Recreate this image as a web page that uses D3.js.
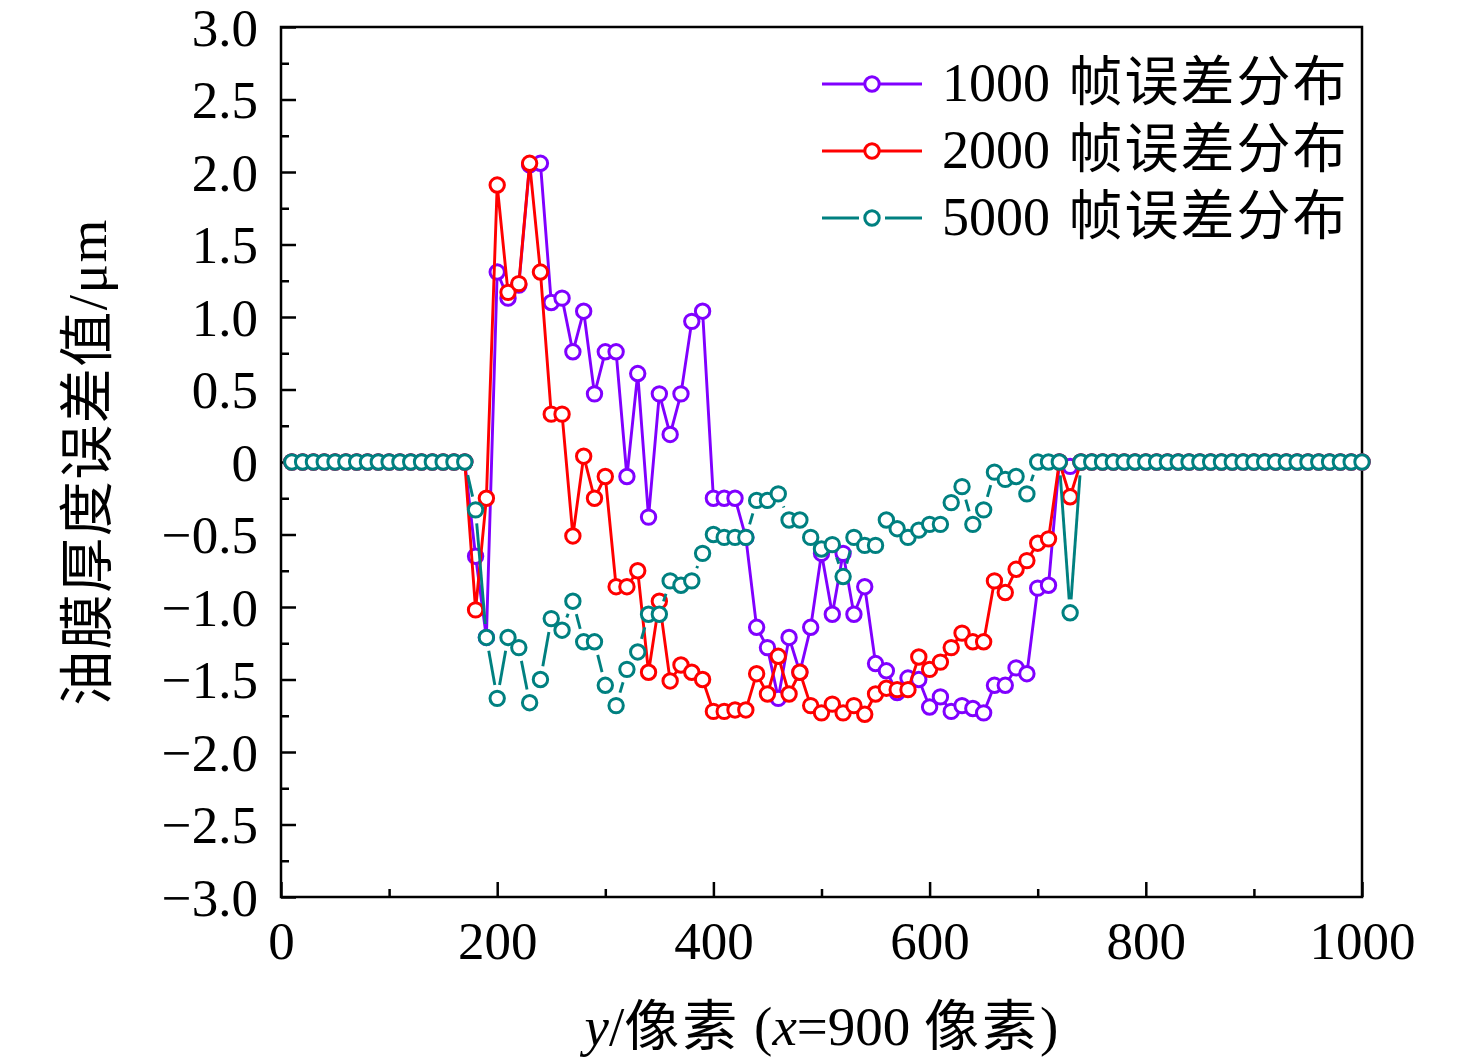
<!DOCTYPE html>
<html>
<head>
<meta charset="utf-8">
<script src="https://cdn.jsdelivr.net/npm/d3@7/dist/d3.min.js"></script>
<style>
  html, body { margin: 0; padding: 0; background: #fff; }
  svg text { font-family: "Liberation Serif", "Noto Sans CJK SC", serif; fill: #000; }
</style>
</head>
<body>
<svg id="chart" width="1476" height="1063"></svg>
<script>
// ---------- data ----------
const xValues = d3.range(10, 1001, 10); // y pixel positions 10..1000
const seriesNums = ["1000", "2000", "5000"];
const seriesLabel = "帧误差分布";
const seriesColors = ["#8000ff", "#ff0000", "#008080"];

const err1000 = [
  0,0,0,0,0,0,0,0,0,0,0,0,0,0,0,0,0,
  -0.65,-1.21,1.31,1.13,1.22,2.05,2.06,1.10,1.13,0.76,
  1.04,0.47,0.76,0.76,-0.10,0.61,-0.38,0.47,0.19,0.47,
  0.97,1.04,-0.25,-0.25,-0.25,-0.52,-1.14,-1.28,-1.63,-1.21,
  -1.45,-1.14,-0.63,-1.05,-0.63,-1.05,-0.86,-1.39,-1.44,-1.59,
  -1.49,-1.50,-1.69,-1.62,-1.72,-1.68,-1.70,-1.73,-1.54,-1.54,
  -1.42,-1.46,-0.87,-0.85,0,-0.03,
  0,0,0,0,0,0,0,0,0,0,0,0,0,0,0,0,0,0,0,0,0,0,0,0,0,0,0
];
const err2000 = [
  0,0,0,0,0,0,0,0,0,0,0,0,0,0,0,0,0,
  -1.02,-0.25,1.91,1.17,1.23,2.06,1.31,0.33,0.33,-0.51,
  0.04,-0.25,-0.10,-0.86,-0.86,-0.75,-1.45,-0.96,-1.51,-1.40,
  -1.45,-1.50,-1.72,-1.72,-1.71,-1.71,-1.46,-1.60,-1.34,-1.60,
  -1.45,-1.68,-1.73,-1.67,-1.73,-1.68,-1.74,-1.60,-1.56,-1.57,
  -1.57,-1.345,-1.43,-1.38,-1.28,-1.18,-1.24,-1.24,-0.82,-0.90,
  -0.74,-0.68,-0.56,-0.53,0,-0.24,
  0,0,0,0,0,0,0,0,0,0,0,0,0,0,0,0,0,0,0,0,0,0,0,0,0,0,0
];
const err5000 = [
  0,0,0,0,0,0,0,0,0,0,0,0,0,0,0,0,0,
  -0.33,-1.21,-1.63,-1.21,-1.28,-1.66,-1.50,-1.08,-1.16,-0.96,
  -1.24,-1.24,-1.54,-1.68,-1.43,-1.31,-1.05,-1.05,-0.82,-0.85,
  -0.82,-0.63,-0.50,-0.52,-0.52,-0.52,-0.265,-0.265,-0.22,-0.40,
  -0.40,-0.52,-0.60,-0.57,-0.79,-0.52,-0.575,-0.575,-0.40,-0.46,
  -0.52,-0.47,-0.43,-0.43,-0.28,-0.17,-0.43,-0.33,-0.07,-0.12,
  -0.10,-0.22,0,0,0,-1.04,
  0,0,0,0,0,0,0,0,0,0,0,0,0,0,0,0,0,0,0,0,0,0,0,0,0,0,0
];
const seriesValues = [err1000, err2000, err5000];
const seriesGap = [false, false, true]; // line gap around symbols (teal series)

const xTickValues = [0, 200, 400, 600, 800, 1000];
const xMinorTicks = [100, 300, 500, 700, 900];
const yTickValues = [-3, -2.5, -2, -1.5, -1, -0.5, 0, 0.5, 1, 1.5, 2, 2.5, 3];
const yMinorTicks = [-2.75, -2.25, -1.75, -1.25, -0.75, -0.25, 0.25, 0.75, 1.25, 1.75, 2.25, 2.75];

const xTitleParts = [["y", true], ["/", false], ["像素", false, true], [" (", false], ["x", true], ["=900 ", false], ["像素", false, true], [")", false]];
const yTitle = "油膜厚度误差值/μm";

// ---------- layout ----------
const L = 281, R = 1362, T = 27, B = 897;
const FS = 53, FS_T = 55;
const svg = d3.select("#chart");
const x = d3.scaleLinear().domain([0, 1000]).range([L, R]);
const y = d3.scaleLinear().domain([-3, 3]).range([B, T]);

const fmtY = v => v === 0 ? "0" : (v < 0 ? "\u2212" : "") + d3.format(".1f")(Math.abs(v));

// axes
const gx = svg.append("g").attr("transform", `translate(0,${B})`)
  .call(d3.axisBottom(x).tickValues(xTickValues).tickSize(-15).tickFormat(d3.format("d")));
const gxm = svg.append("g").attr("transform", `translate(0,${B})`)
  .call(d3.axisBottom(x).tickValues(xMinorTicks).tickSize(-8).tickFormat(""));
const gy = svg.append("g").attr("transform", `translate(${L},0)`)
  .call(d3.axisLeft(y).tickValues(yTickValues).tickSize(-15).tickFormat(fmtY));
const gym = svg.append("g").attr("transform", `translate(${L},0)`)
  .call(d3.axisLeft(y).tickValues(yMinorTicks).tickSize(-8).tickFormat(""));

[gx, gxm, gy, gym].forEach(g => {
  g.select(".domain").remove();
  g.selectAll(".tick line").attr("stroke", "#000").attr("stroke-width", 2.5);
});
gx.selectAll("text").attr("y", 62).attr("dy", 0)
  .style("font-size", FS + "px").attr("fill", "#000");
gy.selectAll("text").attr("x", -23).attr("dy", "0.34em")
  .style("font-size", FS + "px").attr("fill", "#000");
gxm.selectAll("text").remove();
gym.selectAll("text").remove();

// frame
svg.append("rect").attr("x", L).attr("y", T).attr("width", R - L).attr("height", B - T)
  .attr("fill", "none").attr("stroke", "#000").attr("stroke-width", 2.5);

// series
const R_SYM = 7.2, SYM_W = 3, LINE_W = 2.9, GAP = 13.5;
seriesValues.forEach((vals, si) => {
  const col = seriesColors[si];
  const g = svg.append("g");
  const pts = vals.map((v, i) => [x(xValues[i]), y(v)]);
  if (!seriesGap[si]) {
    g.append("path").attr("d", d3.line()(pts))
      .attr("fill", "none").attr("stroke", col).attr("stroke-width", LINE_W)
      .attr("stroke-linejoin", "round");
  } else {
    const segs = [];
    for (let i = 0; i < pts.length - 1; i++) {
      const [x0, y0] = pts[i], [x1, y1] = pts[i + 1];
      const dx = x1 - x0, dy = y1 - y0, len = Math.hypot(dx, dy);
      if (len > 2 * GAP + 1) {
        const ux = dx / len, uy = dy / len;
        segs.push([x0 + ux * GAP, y0 + uy * GAP, x1 - ux * GAP, y1 - uy * GAP]);
      }
    }
    g.selectAll("line").data(segs).join("line")
      .attr("x1", d => d[0]).attr("y1", d => d[1]).attr("x2", d => d[2]).attr("y2", d => d[3])
      .attr("stroke", col).attr("stroke-width", LINE_W);
  }
  g.selectAll("circle").data(pts).join("circle")
    .attr("cx", d => d[0]).attr("cy", d => d[1]).attr("r", R_SYM)
    .attr("fill", "#fff").attr("stroke", col).attr("stroke-width", SYM_W);
});

// legend
const legY = [84, 151, 218];
seriesNums.forEach((num, si) => {
  const col = seriesColors[si];
  const ly = legY[si];
  const g = svg.append("g");
  if (!seriesGap[si]) {
    g.append("line").attr("x1", 822).attr("x2", 922).attr("y1", ly).attr("y2", ly)
      .attr("stroke", col).attr("stroke-width", LINE_W);
  } else {
    g.append("line").attr("x1", 822).attr("x2", 859).attr("y1", ly).attr("y2", ly)
      .attr("stroke", col).attr("stroke-width", LINE_W);
    g.append("line").attr("x1", 885).attr("x2", 922).attr("y1", ly).attr("y2", ly)
      .attr("stroke", col).attr("stroke-width", LINE_W);
  }
  g.append("circle").attr("cx", 872).attr("cy", ly).attr("r", R_SYM)
    .attr("fill", "#fff").attr("stroke", col).attr("stroke-width", SYM_W);
  const t = g.append("text").attr("x", 942).attr("y", ly + 17)
    .style("font-size", "54px");
  t.append("tspan").text(num + " ");
  t.append("tspan").attr("dx", 5).style("letter-spacing", "2px").text(seriesLabel);
});

// axis titles
const xt = svg.append("text").attr("x", (L + R) / 2).attr("y", 1045)
  .attr("text-anchor", "middle").style("font-size", FS_T + "px");
xTitleParts.forEach(([t, it, cjk]) => {
  const s = xt.append("tspan").text(t).style("font-style", it ? "italic" : "normal");
  if (cjk) s.style("letter-spacing", "3px");
});

svg.append("text")
  .attr("transform", `translate(106,${(T + B) / 2}) rotate(-90)`)
  .attr("text-anchor", "middle")
  .style("font-size", FS_T + "px")
  .style("letter-spacing", "1.5px")
  .text(yTitle);
</script>
</body>
</html>
